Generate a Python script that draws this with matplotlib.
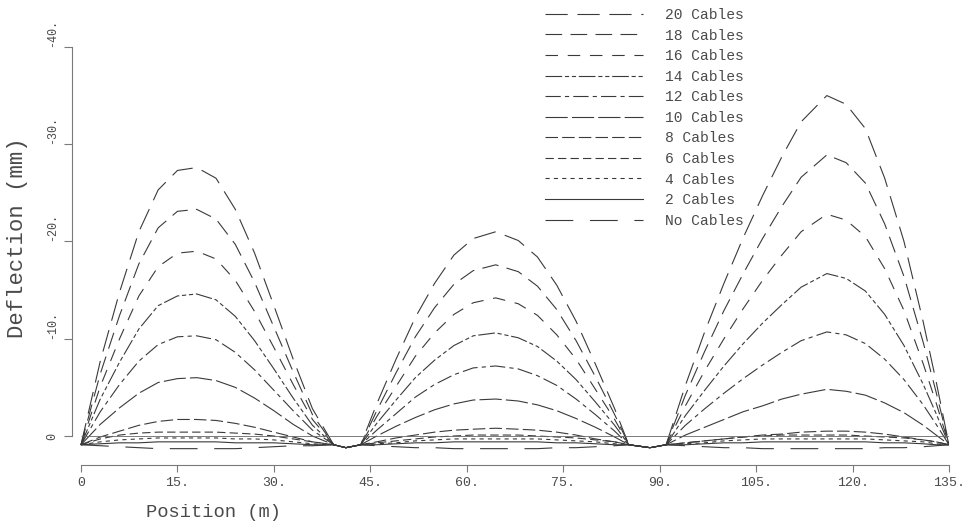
import matplotlib
matplotlib.use('Agg')
import matplotlib.pyplot as plt

plt.rcParams['font.family'] = ['Liberation Mono', 'DejaVu Sans Mono']
plt.rcParams['lines.scale_dashes'] = False

# Position along the bridge (m)
position = [0, 3, 6, 9, 12, 15, 18, 21, 24, 27, 30, 33, 36, 39.3,
            41.2, 43.5,
            46, 49, 52, 55, 58, 61, 64.5, 68, 71, 74, 77, 80, 83, 85.2,
            88.5, 91,
            94, 97, 100, 103, 106, 109, 112, 116, 119, 122, 125, 128, 131, 133, 135]

# Deflection (mm), negative = upward
cables_20 = [0.9, -7.7, -14.8, -21.0, -25.3, -27.3, -27.6, -26.5, -23.3, -18.8, -13.4, -7.9, -2.8, 0.9,
             1.2, 0.9,
             -3.3, -7.9, -12.2, -15.7, -18.6, -20.3, -21.0, -20.1, -18.4, -15.5, -11.8, -7.4, -2.8, 0.9,
             1.2, 0.9,
             -5.2, -10.7, -15.7, -20.4, -24.7, -28.7, -32.3, -35.0, -34.1, -31.6, -26.5, -20.0, -11.7, -5.6, 0.9]
cables_18 = [0.9, -6.4, -12.4, -17.7, -21.4, -23.1, -23.3, -22.3, -19.7, -15.8, -11.2, -6.6, -2.2, 0.9,
             1.2, 0.9,
             -2.6, -6.5, -10.2, -13.2, -15.6, -17.0, -17.6, -16.9, -15.4, -13.0, -9.8, -6.1, -2.2, 0.9,
             1.2, 0.9,
             -4.2, -8.7, -12.9, -16.7, -20.3, -23.6, -26.6, -28.9, -28.1, -26.0, -21.8, -16.4, -9.6, -4.5, 0.9]
cables_16 = [0.9, -5.1, -10.0, -14.4, -17.4, -18.8, -19.0, -18.2, -16.0, -12.8, -9.1, -5.3, -1.7, 0.9,
             1.2, 0.9,
             -2.0, -5.1, -8.2, -10.6, -12.5, -13.7, -14.2, -13.6, -12.4, -10.4, -7.9, -4.8, -1.7, 0.9,
             1.2, 0.9,
             -3.1, -6.7, -10.0, -13.1, -16.0, -18.6, -21.0, -22.8, -22.2, -20.5, -17.2, -12.9, -7.4, -3.4, 0.9]
cables_14 = [0.9, -3.8, -7.6, -11.0, -13.4, -14.4, -14.6, -14.0, -12.3, -9.8, -6.9, -3.9, -1.1, 0.9,
             1.2, 0.9,
             -1.3, -3.7, -6.0, -7.8, -9.3, -10.3, -10.6, -10.1, -9.2, -7.7, -5.8, -3.5, -1.1, 0.9,
             1.2, 0.9,
             -2.1, -4.7, -7.2, -9.5, -11.6, -13.5, -15.3, -16.7, -16.2, -14.9, -12.5, -9.3, -5.3, -2.3, 0.9]
cables_12 = [0.9, -2.5, -5.3, -7.7, -9.4, -10.2, -10.3, -9.9, -8.6, -6.8, -4.7, -2.6, -0.6, 0.9,
             1.2, 0.9,
             -0.6, -2.3, -4.0, -5.3, -6.3, -7.0, -7.2, -6.9, -6.2, -5.2, -3.8, -2.2, -0.5, 0.9,
             1.2, 0.9,
             -1.1, -2.8, -4.4, -5.9, -7.3, -8.6, -9.8, -10.7, -10.4, -9.5, -7.9, -5.8, -3.2, -1.2, 0.9]
cables_10 = [0.9, -1.2, -2.9, -4.4, -5.5, -5.9, -6.0, -5.7, -5.0, -3.9, -2.6, -1.2, 0.0, 0.9,
             1.2, 0.9,
             0.0, -1.0, -1.9, -2.7, -3.3, -3.7, -3.8, -3.6, -3.2, -2.6, -1.8, -0.9, 0.1, 0.9,
             1.2, 0.9,
             -0.1, -0.9, -1.7, -2.5, -3.1, -3.8, -4.3, -4.8, -4.6, -4.2, -3.4, -2.4, -1.1, -0.1, 0.9]
cables_8 = [0.9, 0.1, -0.5, -1.1, -1.5, -1.7, -1.7, -1.6, -1.3, -0.9, -0.4, 0.1, 0.6, 0.9,
            1.2, 0.9,
            0.6, 0.2, -0.1, -0.4, -0.6, -0.7, -0.8, -0.7, -0.6, -0.4, -0.1, 0.3, 0.6, 0.9,
            1.2, 0.9,
            0.7, 0.5, 0.3, 0.1, -0.1, -0.2, -0.4, -0.5, -0.5, -0.4, -0.2, 0.1, 0.4, 0.6, 0.9]
cables_6 = [0.9, 0.3, -0.1, -0.3, -0.4, -0.4, -0.4, -0.4, -0.3, -0.2, 0.0, 0.3, 0.6, 0.9,
            1.2, 0.9,
            0.7, 0.5, 0.3, 0.1, 0.0, -0.1, -0.1, -0.1, 0.0, 0.1, 0.2, 0.4, 0.6, 0.9,
            1.2, 0.9,
            0.7, 0.5, 0.3, 0.1, 0.0, -0.1, -0.1, -0.1, -0.1, 0.0, 0.1, 0.2, 0.4, 0.6, 0.9]
cables_4 = [0.9, 0.6, 0.4, 0.3, 0.2, 0.2, 0.2, 0.2, 0.3, 0.3, 0.4, 0.6, 0.8, 0.9,
            1.2, 0.9,
            0.8, 0.7, 0.5, 0.4, 0.3, 0.3, 0.3, 0.3, 0.3, 0.4, 0.5, 0.6, 0.8, 0.9,
            1.2, 0.9,
            0.8, 0.7, 0.5, 0.4, 0.3, 0.3, 0.3, 0.3, 0.3, 0.3, 0.4, 0.5, 0.6, 0.8, 0.9]
cables_2 = [0.9, 0.8, 0.7, 0.7, 0.6, 0.6, 0.6, 0.6, 0.7, 0.7, 0.7, 0.8, 0.9, 0.9,
            1.2, 0.9,
            0.9, 0.8, 0.7, 0.7, 0.6, 0.6, 0.6, 0.6, 0.6, 0.7, 0.7, 0.8, 0.9, 0.9,
            1.2, 0.9,
            0.9, 0.8, 0.7, 0.7, 0.6, 0.6, 0.6, 0.6, 0.6, 0.6, 0.7, 0.7, 0.8, 0.9, 0.9]
no_cables = [0.9, 1.0, 1.1, 1.2, 1.3, 1.3, 1.3, 1.3, 1.3, 1.2, 1.1, 1.0, 1.0, 0.9,
             1.2, 0.9,
             1.0, 1.1, 1.2, 1.2, 1.3, 1.3, 1.3, 1.3, 1.3, 1.2, 1.2, 1.1, 1.0, 0.9,
             1.2, 0.9,
             1.0, 1.1, 1.2, 1.2, 1.3, 1.3, 1.3, 1.3, 1.3, 1.3, 1.2, 1.2, 1.1, 1.0, 0.9]

labels = ['20 Cables', '18 Cables', '16 Cables', '14 Cables', '12 Cables', '10 Cables',
          '8 Cables', '6 Cables', '4 Cables', '2 Cables', 'No Cables']
values = [cables_20, cables_18, cables_16, cables_14, cables_12, cables_10,
          cables_8, cables_6, cables_4, cables_2, no_cables]

# dash patterns (points) roughly matching the legend samples
dash_styles = [(16, 7), (12, 6), (9, 7), (12, 2, 3, 2, 3, 2), (11, 3, 3, 3),
               (16, 3), (9, 3), (6, 3), (3, 3), None, (20, 12)]

x_ticks = [0, 15, 30, 45, 60, 75, 90, 105, 120, 135]
x_tick_labels = ['0', '15.', '30.', '45.', '60.', '75.', '90.', '105.', '120.', '135.']
y_ticks = [0, -10, -20, -30, -40]
y_tick_labels = ['0', '-10.', '-20.', '-30.', '-40.']

line_color = '#3a3a3a'
text_color = '#4a4a4a'
axis_color = '#7a7a7a'

fig = plt.figure(figsize=(9.74, 5.25), dpi=100)
ax = fig.add_axes([72 / 974, 60 / 525, 877 / 974, 421 / 525])

handles = []
for lab, vals, dash in zip(labels, values, dash_styles):
    line, = ax.plot(position, vals, color=line_color, lw=0.8, label=lab)
    if dash is not None:
        line.set_dashes(dash)
    handles.append(line)

# zero reference line
ax.hlines(0, 0, 135, color='#666666', lw=0.6)

ax.set_xlim(-1.4, 135)
ax.set_ylim(2.98, -40.3)

for side in ['top', 'right']:
    ax.spines[side].set_visible(False)
for side in ['left', 'bottom']:
    ax.spines[side].set_color(axis_color)
    ax.spines[side].set_linewidth(0.8)
ax.spines['left'].set_bounds(-40, 0)
ax.spines['bottom'].set_bounds(0, 135)

ax.set_xticks(x_ticks)
ax.set_xticklabels(x_tick_labels)
ax.set_yticks(y_ticks)
ax.set_yticklabels(y_tick_labels)
ax.tick_params(axis='both', direction='out', color=axis_color, width=0.8,
               labelcolor=text_color)
ax.tick_params(axis='x', length=5, pad=4, labelsize=9.5)
ax.tick_params(axis='y', length=6, pad=4, labelrotation=90, labelsize=8.5)
for lab in ax.get_yticklabels():
    lab.set_va('bottom')
ax.get_yticklabels()[0].set_va('center')

ax.set_xlabel('Position (m)', fontsize=13.5, color=text_color)
ax.xaxis.set_label_coords(0.161, -0.112)
ax.xaxis.label.set_va('center')
ax.set_ylabel('Deflection (mm)', fontsize=16, color=text_color)
ax.yaxis.set_label_coords(-0.0616, 0.539)
ax.yaxis.label.set_va('center')

leg = fig.legend(handles, labels, loc='upper left',
                 bbox_to_anchor=(545 / 974, 1 - 8 / 525),
                 frameon=False, fontsize=10.5, handlelength=6.7,
                 handletextpad=1.5, labelspacing=0.45,
                 borderpad=0, borderaxespad=0)
for t in leg.get_texts():
    t.set_color(text_color)

fig.savefig('out.png', dpi=100)
